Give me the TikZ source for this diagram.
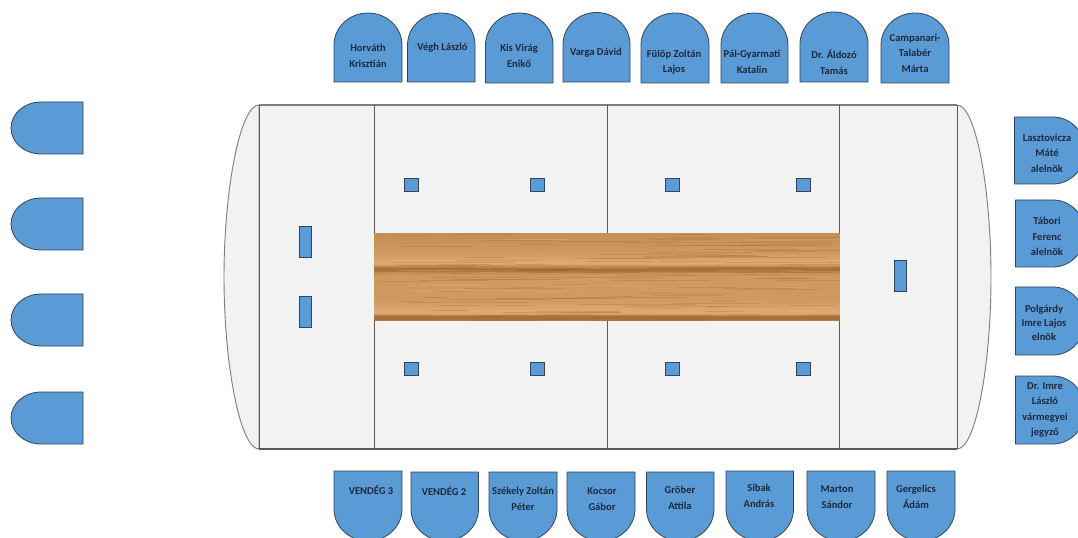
\documentclass[tikz,border=0pt]{standalone}
\usepackage{fontspec}
\setmainfont{Carlito}
\definecolor{seatfill}{HTML}{5B9BD5}
\definecolor{seatedge}{HTML}{2F4560}
\definecolor{seattext}{HTML}{1B2A41}
\definecolor{hallfill}{HTML}{F2F2F2}
\definecolor{halledge}{HTML}{7F7F7F}
\definecolor{woodA}{HTML}{CF9A60}
\definecolor{woodB}{HTML}{C68F54}
\definecolor{woodC}{HTML}{DCA873}
\definecolor{woodD}{HTML}{A86F3A}
\definecolor{woodE}{HTML}{8F5A2A}
\pgfdeclareverticalshading{woodshade}{100bp}{
 color(0bp)=(woodB);
 color(25bp)=(woodB);
 color(26bp)=(woodD);
 color(28bp)=(woodD);
 color(29.3bp)=(woodC);
 color(31bp)=(woodC);
 color(37.3bp)=(woodA);
 color(50.5bp)=(woodA);
 color(52.8bp)=(woodB);
 color(54bp)=(woodD);
 color(55.4bp)=(woodD);
 color(56.8bp)=(woodB);
 color(58bp)=(woodC);
 color(59.5bp)=(woodC);
 color(63.7bp)=(woodA);
 color(73.1bp)=(woodB);
 color(75bp)=(woodB);
 color(100bp)=(woodB)}
\tikzset{
 seat/.style={draw=seatedge,fill=seatfill,line width=.6pt,line join=round},
 seatlabel/.style={inner sep=0pt,align=center,text=seattext,font=\bfseries\fontsize{7.9}{11.6}\selectfont},
 hall/.style={draw=halledge,fill=hallfill,line width=.7pt},
 divider/.style={draw=black!65,line width=.6pt},
 desk/.style={draw=seatedge,fill=seatfill,line width=.4pt,inner sep=0pt,rectangle},
}
% x0 x1 ytop ybot ry
\newcommand\archup[5]{\pgfmathsetmacro\xm{(#1+#2)/2}\pgfmathsetmacro\rx{(#2-#1)/2}
 \draw[seat] (#1,#4) -- (#1,#3+#5) .. controls (#1,#3+#5*.448) and (\xm-\rx*.5523,#3) .. (\xm,#3)
  .. controls (\xm+\rx*.5523,#3) and (#2,#3+#5*.448) .. (#2,#3+#5) -- (#2,#4) -- cycle;}
% x0 x1 ytop ybot ry
\newcommand\archdown[5]{\pgfmathsetmacro\xm{(#1+#2)/2}\pgfmathsetmacro\rx{(#2-#1)/2}
 \draw[seat] (#1,#3) -- (#1,#4-#5) .. controls (#1,#4-#5*.448) and (\xm-\rx*.5523,#4) .. (\xm,#4)
  .. controls (\xm+\rx*.5523,#4) and (#2,#4-#5*.448) .. (#2,#4-#5) -- (#2,#3) -- cycle;}
% xflat xtip ytop ybot rx  (tip on either side)
\newcommand\archside[5]{\pgfmathsetmacro\ym{(#3+#4)/2}\pgfmathsetmacro\ry{(#4-#3)/2}
 \pgfmathsetmacro\xs{#2-#5}\pgfmathsetmacro\xc{#2-#5*.448}
 \draw[seat] (#1,#3) -- (\xs,#3) .. controls (\xc,#3) and (#2,\ym-\ry*.5523) .. (#2,\ym)
  .. controls (#2,\ym+\ry*.5523) and (\xc,#4) .. (\xs,#4) -- (#1,#4) -- cycle;}
\begin{document}
\begin{tikzpicture}[x=.75pt,y=-.75pt]
\useasboundingbox (0,0) rectangle (1078,538);
\clip (0,0) rectangle (1078,538);
% hall
\draw[hall] (259,105) .. controls (240,105) and (224,190) .. (224,277) .. controls (224,364) and (240,449) .. (259,449) -- cycle;
\draw[hall] (957,105) .. controls (976,105) and (991,190) .. (991,277) .. controls (991,364) and (976,449) .. (957,449) -- cycle;
\path[fill=hallfill] (259,105) rectangle (957,449);
\draw[halledge,line width=.9pt] (259,105) -- (957,105);
\draw[black!65,line width=.8pt] (259,449) -- (957,449);
\coordinate (v1t) at (259,105); \coordinate (v1b) at (259,449);
\coordinate (v2t) at (374.5,105); \coordinate (v2b) at (374.5,449);
\coordinate (v3t) at (607.5,105); \coordinate (v3b) at (607.5,449);
\coordinate (v4t) at (839.5,105); \coordinate (v4b) at (839.5,449);
\coordinate (v5t) at (957,105); \coordinate (v5b) at (957,449);
\foreach \a/\b in {v1t/v1b,v2t/v2b,v3t/v3b,v4t/v4b,v5t/v5b} \draw[divider] (\a) -- (\b);
% table
\shade[shading=woodshade] (374.5,234) rectangle (839.5,321);
\pgfmathsetseed{7}
\begin{scope}
\clip (374.5,234) rectangle (839.5,321);
\foreach \i in {1,...,170}{
 \pgfmathsetmacro\yy{234+rnd*87}
 \pgfmathsetmacro\xa{374+rnd*420}
 \pgfmathsetmacro\xl{20+rnd*110}
 \pgfmathsetmacro\dk{rnd>.4?1:0}
 \ifdim\dk pt>0pt
  \draw[woodE,opacity=.22,line width=.3pt] (\xa,\yy) -- ++(\xl,0);
 \else
  \draw[woodC,opacity=.3,line width=.3pt] (\xa,\yy) -- ++(\xl,0);
 \fi
}
\end{scope}
% small desks
\foreach \n/\x/\y in {a/411/185,b/537/185,c/672/185,d/803/185,e/411/368.5,f/537/368.5,g/672/368.5,h/803/368.5}
 \node[desk,minimum width=10.5pt,minimum height=9.7pt] (desk\n) at (\x,\y) {};
\node[desk,minimum width=9pt,minimum height=23.2pt] (deskL1) at (305,241.5) {};
\node[desk,minimum width=9pt,minimum height=23.2pt] (deskL2) at (305,312) {};
\node[desk,minimum width=9pt,minimum height=23.2pt] (deskR) at (900,276) {};
% top seats
\archup{334}{402}{13}{82}{32}
\archup{407.5}{475}{13}{82}{32}
\archup{485.5}{553}{13}{83}{32}
\archup{563}{630}{12.5}{82}{32}
\archup{641}{709}{13}{83}{32}
\archup{721}{788}{13}{83}{32}
\archup{800}{868}{12}{82}{32}
\archup{881}{949}{13}{83}{32}
\node[seatlabel] (t1) at (368,56) {Horváth\\Krisztián};
\node[seatlabel] (t2) at (442.5,48) {Végh László};
\node[seatlabel] (t3) at (519,56) {Kis Virág\\Enikő};
\node[seatlabel] (t4) at (596,53) {Varga Dávid};
\node[seatlabel] (t5) at (674,62) {Fülöp Zoltán\\Lajos};
\node[seatlabel] (t6) at (752,62) {Pál-Gyarmati\\Katalin};
\node[seatlabel] (t7) at (834,62) {Dr. Áldozó\\Tamás};
\node[seatlabel] (t8) at (915,53) {Campanari-\\Talabér\\Márta};
% bottom seats
\archdown{334}{402}{471}{541}{32}
\archdown{411}{478.5}{472}{541}{32}
\archdown{489}{557}{472}{541}{32}
\archdown{567}{635}{472}{541}{32}
\archdown{646.5}{714}{472}{541}{32}
\archdown{726}{793.5}{471}{541}{32}
\archdown{807}{875}{471}{541}{32}
\archdown{887}{955}{471}{541}{32}
\node[seatlabel] (b1) at (371,490) {VENDÉG 3};
\node[seatlabel] (b2) at (444,491) {VENDÉG 2};
\node[seatlabel] (b3) at (523,499) {Székely Zoltán\\Péter};
\node[seatlabel] (b4) at (602,499) {Kocsor\\Gábor};
\node[seatlabel] (b5) at (680,498) {Gröber\\Attila};
\node[seatlabel] (b6) at (759,496) {Sibak\\András};
\node[seatlabel] (b7) at (837,497) {Marton\\Sándor};
\node[seatlabel] (b8) at (916,497) {Gergelics\\Ádám};
% right seats
\archside{1014.5}{1085}{117}{184}{32}
\archside{1015.5}{1085}{200}{267}{32}
\archside{1015.5}{1085}{287}{355}{32}
\archside{1015.5}{1085}{376}{444}{32}
\node[seatlabel] (r1) at (1047,153) {Lasztovicza\\Máté\\alelnök};
\node[seatlabel] (r2) at (1047,236.5) {Tábori\\Ferenc\\alelnök};
\node[seatlabel,font=\bfseries\fontsize{7.9}{10.6}\selectfont] (r3) at (1044,323) {Polgárdy\\Imre Lajos\\elnök};
\node[seatlabel] (r4) at (1045,410) {Dr. Imre\\László\\vármegyei\\jegyző};
% left seats
\archside{83}{11}{102}{154}{-30}
\archside{83}{11}{198}{250}{-30}
\archside{83}{11}{294}{346}{-30}
\archside{83}{11}{392}{444}{-30}
\end{tikzpicture}
\end{document}
